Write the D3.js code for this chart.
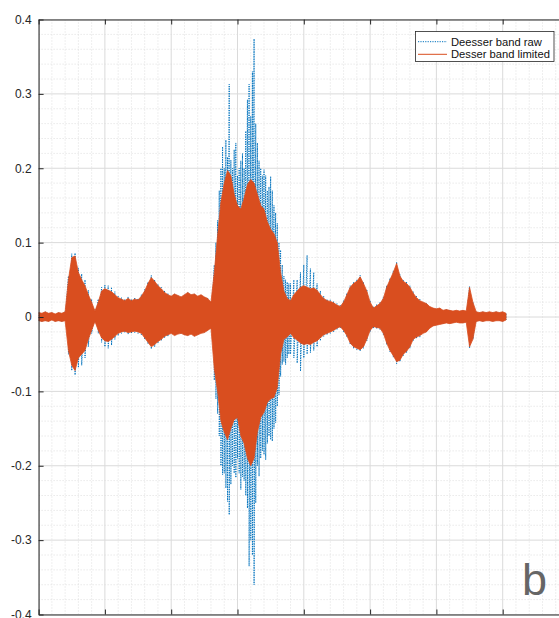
<!DOCTYPE html>
<html>
<head>
<meta charset="utf-8">
<script src="https://cdn.jsdelivr.net/npm/d3@7"></script>
<style>
  body { margin: 0; background: #fff; }
  svg { display: block; }
</style>
</head>
<body>
<svg id="chart"></svg>
<script>
// sample axis in thousands of samples (labels are cut off in the reference)
const xTickValues = [0, 10, 20, 30, 40, 50, 60, 70, 80];
const yTickValues = [-0.4, -0.3, -0.2, -0.1, 0, 0.1, 0.2, 0.3, 0.4];
const seriesNames = ["Deesser band raw", "Desser band limited"];

// limited band: envelope peaks every 0.5k samples, from 0 to 70.5
const limitedX = d3.range(0, 70.75, 0.5);
const limitedHi = [
  0.006, 0.005, 0.007, 0.005, 0.006, 0.004, 0.006, 0.005, 0.007, 0.05,
  0.08, 0.082, 0.06, 0.05, 0.042, 0.03, 0.02, 0.008, 0.02, 0.035,
  0.038, 0.036, 0.034, 0.03, 0.026, 0.024, 0.022, 0.025, 0.022, 0.024,
  0.023, 0.028, 0.035, 0.045, 0.053, 0.048, 0.042, 0.038, 0.033, 0.03,
  0.028, 0.031, 0.029, 0.027, 0.03, 0.033, 0.03, 0.031, 0.028, 0.03,
  0.027, 0.025, 0.02, 0.06, 0.11, 0.155, 0.18, 0.197, 0.19, 0.165,
  0.15, 0.145, 0.16, 0.178, 0.185, 0.18, 0.165, 0.15, 0.145, 0.128,
  0.118, 0.112, 0.1, 0.06, 0.035, 0.025, 0.022, 0.03, 0.035, 0.04,
  0.042, 0.04, 0.038, 0.039, 0.036, 0.03, 0.025, 0.022, 0.021, 0.019,
  0.016, 0.014, 0.02, 0.03, 0.04, 0.045, 0.048, 0.054, 0.045, 0.035,
  0.02, 0.012, 0.015, 0.018, 0.025, 0.04, 0.05, 0.06, 0.072, 0.055,
  0.048, 0.045, 0.04, 0.032, 0.026, 0.022, 0.02, 0.018, 0.014, 0.012,
  0.011, 0.012, 0.009, 0.01, 0.009, 0.008, 0.009, 0.008, 0.009, 0.008,
  0.04, 0.02, 0.007, 0.006, 0.007, 0.006, 0.007, 0.006, 0.007, 0.006,
  0.007, 0.005
];
const limitedLo = [
  -0.005, -0.006, -0.005, -0.006, -0.004, -0.006, -0.005, -0.006, -0.005, -0.045,
  -0.065, -0.072, -0.055, -0.05, -0.045, -0.03, -0.018, -0.006, -0.018, -0.028,
  -0.032, -0.033, -0.03, -0.026, -0.022, -0.02, -0.019, -0.021, -0.02, -0.019,
  -0.02, -0.022, -0.028, -0.034, -0.04, -0.037, -0.033, -0.03, -0.026, -0.024,
  -0.022, -0.025, -0.023, -0.022, -0.024, -0.025, -0.023, -0.026, -0.024, -0.022,
  -0.021, -0.018, -0.015, -0.07, -0.1, -0.14, -0.155, -0.165, -0.15, -0.138,
  -0.135, -0.16, -0.17, -0.19, -0.2, -0.19, -0.155, -0.135, -0.128, -0.115,
  -0.11, -0.108, -0.095, -0.05, -0.03, -0.027, -0.022, -0.028, -0.031, -0.035,
  -0.037, -0.036, -0.037, -0.034, -0.032, -0.028, -0.024, -0.022, -0.02, -0.018,
  -0.015, -0.013, -0.018, -0.025, -0.035, -0.04, -0.042, -0.044, -0.04, -0.03,
  -0.018, -0.013, -0.014, -0.015, -0.022, -0.035, -0.045, -0.052, -0.06, -0.058,
  -0.05, -0.046, -0.04, -0.03, -0.027, -0.025, -0.022, -0.02, -0.015, -0.012,
  -0.011, -0.01, -0.009, -0.008, -0.009, -0.008, -0.007, -0.008, -0.008, -0.007,
  -0.04, -0.03, -0.006, -0.005, -0.006, -0.005, -0.005, -0.006, -0.005, -0.005,
  -0.006, -0.004
];

// raw band: same peaks, denser (0.25k) through the loud burst 26.5 - 37.75
const rawX = d3.range(0, 26.25, 0.5)
  .concat(d3.range(26.5, 37.875, 0.25))
  .concat(d3.range(38, 70.75, 0.5));
const rawHi = [
  0.006, 0.005, 0.007, 0.005, 0.006, 0.004, 0.006, 0.005, 0.007, 0.055,
  0.085, 0.086, 0.066, 0.058, 0.05, 0.036, 0.024, 0.01, 0.024, 0.04,
  0.043, 0.042, 0.04, 0.034, 0.028, 0.026, 0.024, 0.027, 0.024, 0.026,
  0.025, 0.03, 0.037, 0.047, 0.056, 0.05, 0.044, 0.04, 0.035, 0.032,
  0.028, 0.031, 0.029, 0.027, 0.03, 0.033, 0.03, 0.031, 0.028, 0.03,
  0.027, 0.025, 0.02,
  // burst
  0.07, 0.1, 0.13, 0.17, 0.2, 0.229, 0.2, 0.238, 0.215, 0.313,
  0.211, 0.2, 0.225, 0.234, 0.19, 0.2, 0.21, 0.22, 0.2, 0.25,
  0.292, 0.313, 0.27, 0.33, 0.374, 0.26, 0.234, 0.21, 0.2, 0.19,
  0.198, 0.19, 0.17, 0.175, 0.189, 0.17, 0.15, 0.14, 0.126, 0.1,
  0.09, 0.07, 0.055, 0.05, 0.047, 0.045,
  // after burst
  0.045, 0.05, 0.05, 0.06, 0.07, 0.083, 0.065, 0.06, 0.045, 0.035,
  0.028, 0.024, 0.023, 0.021, 0.018, 0.016, 0.022, 0.032, 0.042, 0.047,
  0.05, 0.056, 0.047, 0.037, 0.022, 0.014, 0.017, 0.02, 0.027, 0.042,
  0.052, 0.062, 0.074, 0.057, 0.05, 0.047, 0.042, 0.034, 0.028, 0.024,
  0.02, 0.018, 0.014, 0.012, 0.011, 0.012, 0.009, 0.01, 0.009, 0.008,
  0.009, 0.008, 0.009, 0.008, 0.041, 0.02, 0.007, 0.006, 0.007, 0.006,
  0.007, 0.006, 0.007, 0.006, 0.007, 0.005
];
const rawLo = [
  -0.005, -0.006, -0.005, -0.006, -0.004, -0.006, -0.005, -0.006, -0.005, -0.05,
  -0.072, -0.078, -0.068, -0.065, -0.055, -0.04, -0.022, -0.008, -0.022, -0.034,
  -0.04, -0.042, -0.038, -0.03, -0.025, -0.022, -0.021, -0.023, -0.022, -0.021,
  -0.022, -0.024, -0.03, -0.036, -0.043, -0.04, -0.035, -0.032, -0.028, -0.026,
  -0.022, -0.025, -0.023, -0.022, -0.024, -0.025, -0.023, -0.026, -0.024, -0.022,
  -0.021, -0.018, -0.015,
  // burst
  -0.085, -0.11, -0.13, -0.16, -0.2, -0.212, -0.21, -0.23, -0.248, -0.266,
  -0.225, -0.2, -0.21, -0.216, -0.19, -0.21, -0.232, -0.215, -0.22, -0.24,
  -0.257, -0.335, -0.3, -0.32, -0.36, -0.25, -0.2, -0.214, -0.19, -0.18,
  -0.185, -0.192, -0.17, -0.16, -0.165, -0.167, -0.15, -0.142, -0.12, -0.105,
  -0.08, -0.064, -0.06, -0.064, -0.055, -0.05,
  // after burst
  -0.05, -0.055, -0.062, -0.073, -0.055, -0.05, -0.048, -0.045, -0.04, -0.032,
  -0.026, -0.024, -0.022, -0.02, -0.017, -0.015, -0.02, -0.027, -0.037, -0.042,
  -0.044, -0.046, -0.042, -0.032, -0.02, -0.015, -0.016, -0.017, -0.024, -0.037,
  -0.047, -0.054, -0.063, -0.06, -0.052, -0.048, -0.042, -0.032, -0.029, -0.027,
  -0.022, -0.02, -0.015, -0.012, -0.011, -0.01, -0.009, -0.008, -0.009, -0.008,
  -0.007, -0.008, -0.008, -0.007, -0.042, -0.03, -0.006, -0.005, -0.006, -0.005,
  -0.005, -0.006, -0.005, -0.005, -0.006, -0.004
];

const W = 559, H = 618;
const margin = { left: 38.6, right: 569, top: 19.5, bottom: 614.5 };
const blue = "#0072bd", orange = "#d94e1f", ink = "#262626";
const font = "'Liberation Sans', Arial, Helvetica, sans-serif";

const x = d3.scaleLinear().domain([0, 80]).range([margin.left, margin.right]);
const y = d3.scaleLinear().domain([-0.4, 0.4]).range([margin.bottom, margin.top]);

const svg = d3.select("#chart").attr("width", W).attr("height", H);
svg.append("rect").attr("width", W).attr("height", H).attr("fill", "#fff");

svg.append("clipPath").attr("id", "plot")
  .append("rect")
  .attr("x", margin.left).attr("y", margin.top)
  .attr("width", margin.right - margin.left).attr("height", margin.bottom - margin.top);

// grid: minor dotted, major solid
const grid = svg.append("g");
const minorX = d3.range(0, 81, 2).filter(v => v % 10 !== 0);
const minorY = d3.range(-40, 41, 2).filter(v => v % 10 !== 0).map(v => v / 100);

grid.selectAll(".mx").data(minorX).enter().append("line")
  .attr("x1", d => x(d)).attr("x2", d => x(d))
  .attr("y1", margin.top).attr("y2", margin.bottom)
  .attr("stroke", "#dedede").attr("stroke-dasharray", "1,2");
grid.selectAll(".my").data(minorY).enter().append("line")
  .attr("x1", margin.left).attr("x2", margin.right)
  .attr("y1", d => y(d)).attr("y2", d => y(d))
  .attr("stroke", "#dedede").attr("stroke-dasharray", "1,2");
grid.selectAll(".gx").data(xTickValues).enter().append("line")
  .attr("x1", d => x(d)).attr("x2", d => x(d))
  .attr("y1", margin.top).attr("y2", margin.bottom)
  .attr("stroke", "#dadada");
grid.selectAll(".gy").data(yTickValues).enter().append("line")
  .attr("x1", margin.left).attr("x2", margin.right)
  .attr("y1", d => y(d)).attr("y2", d => y(d))
  .attr("stroke", "#dadada");

const plot = svg.append("g").attr("clip-path", "url(#plot)");

// raw: zig-zag through every peak pair, dotted
const rawPts = [];
rawX.forEach((v, i) => {
  rawPts.push([v, rawHi[i]]);
  rawPts.push([v, rawLo[i]]);
});
const line = d3.line().x(d => x(d[0])).y(d => y(d[1]));
plot.append("path")
  .attr("d", line(rawPts))
  .attr("fill", "none")
  .attr("stroke", blue)
  .attr("stroke-width", 1)
  .attr("stroke-dasharray", "1.2,1.2");

// limited: dense waveform drawn as its envelope
const limited = limitedX.map((v, i) => ({ x: v, hi: limitedHi[i], lo: limitedLo[i] }));
plot.append("path")
  .attr("d", d3.area().x(d => x(d.x)).y0(d => y(d.lo)).y1(d => y(d.hi))(limited))
  .attr("fill", orange)
  .attr("stroke", orange)
  .attr("stroke-width", 0.8);

// axes: ticks point inward, as in MATLAB
const yAxis = d3.axisLeft(y).tickValues(yTickValues).tickSize(-5).tickSizeOuter(0)
  .tickPadding(7).tickFormat(d => String(+d.toFixed(1)));
const gy = svg.append("g").attr("transform", `translate(${margin.left},0)`).call(yAxis);
gy.selectAll("text").attr("font-family", font).attr("font-size", 12).attr("fill", ink);

const xBottom = d3.axisBottom(x).tickValues(xTickValues).tickSize(-5).tickSizeOuter(0).tickFormat(() => "");
svg.append("g").attr("transform", `translate(0,${margin.bottom})`).call(xBottom);
const xTop = d3.axisTop(x).tickValues(xTickValues).tickSize(-5).tickSizeOuter(0).tickFormat(() => "");
svg.append("g").attr("transform", `translate(0,${margin.top})`).call(xTop);

svg.selectAll(".domain, .tick line").attr("stroke", ink);

// legend
const lg = svg.append("g");
lg.append("rect")
  .attr("x", 415.5).attr("y", 31.5).attr("width", 138.5).attr("height", 30)
  .attr("fill", "#fff").attr("stroke", ink).attr("stroke-width", 0.8);
seriesNames.forEach((name, i) => {
  const ly = 41.7 + i * 12.6;
  lg.append("line")
    .attr("x1", 418).attr("x2", 447).attr("y1", ly).attr("y2", ly)
    .attr("stroke", i === 0 ? blue : orange)
    .attr("stroke-width", 1)
    .attr("stroke-dasharray", i === 0 ? "1.2,1.2" : null);
  lg.append("text")
    .attr("x", 451).attr("y", ly + 4)
    .attr("font-family", font).attr("font-size", 11.2).attr("fill", "#111")
    .text(name);
});

// panel letter
svg.append("text")
  .attr("x", 522).attr("y", 595)
  .attr("font-family", font).attr("font-size", 45).attr("fill", "#666")
  .text("b");
</script>
</body>
</html>
